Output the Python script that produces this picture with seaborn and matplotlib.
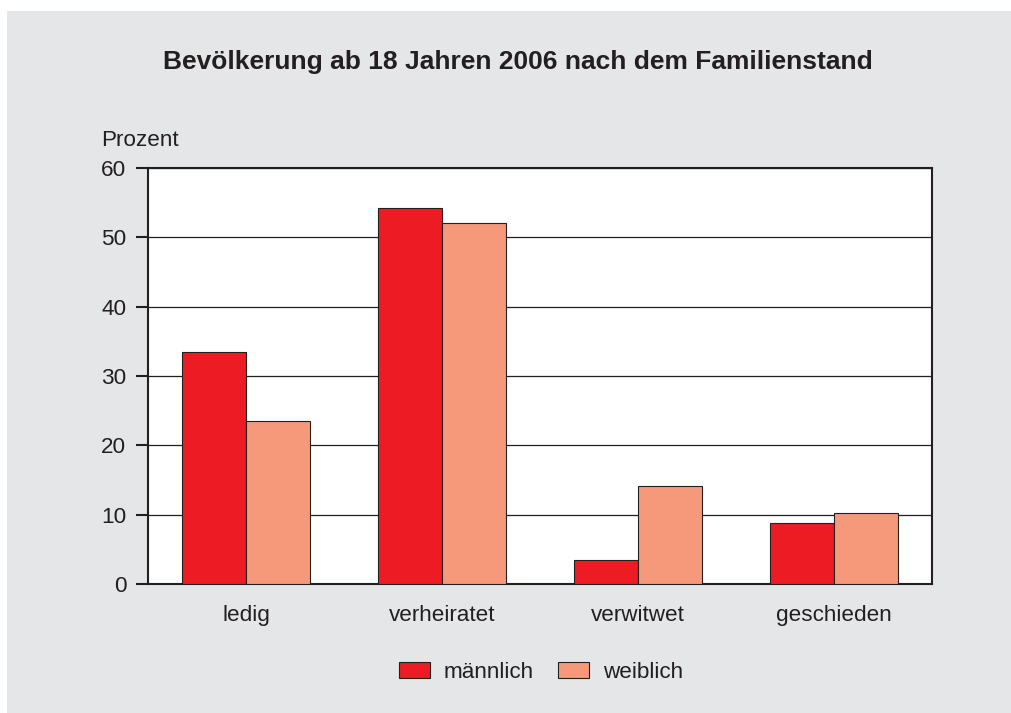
import pandas as pd
import matplotlib.pyplot as plt
import seaborn as sns
from matplotlib.patches import Rectangle

# Daten
kategorien = ['ledig', 'verheiratet', 'verwitwet', 'geschieden']
maennlich = [33.5, 54.2, 3.5, 8.8]
weiblich = [23.5, 52.1, 14.1, 10.2]
serien = ['männlich', 'weiblich']
farben = ['#ed1c24', '#f5997a']
y_ticks = [0, 10, 20, 30, 40, 50, 60]

df = pd.DataFrame({
    'Familienstand': kategorien * 2,
    'Geschlecht': [serien[0]] * 4 + [serien[1]] * 4,
    'Prozent': maennlich + weiblich,
})

sns.set_theme(style='white')
plt.rcParams['font.family'] = ['Liberation Sans', 'DejaVu Sans']

fig = plt.figure(figsize=(10.12, 7.13), dpi=100, facecolor='white')
# grauer Hintergrund
fig.patches.append(Rectangle((7 / 1012, 0), 1, 1 - 11 / 713, transform=fig.transFigure,
                             facecolor='#e5e6e8', edgecolor='none', zorder=-10))

ax = fig.add_axes([148 / 1012, 129 / 713, 784 / 1012, 416 / 713])
sns.barplot(data=df, x='Familienstand', y='Prozent', hue='Geschlecht',
            palette=farben, width=0.653, edgecolor='#231f20', linewidth=0.8,
            saturation=1, ax=ax, zorder=3)

ax.set_ylim(0, 60)
ax.set_yticks(y_ticks)
ax.yaxis.grid(True, color='#231f20', linewidth=0.9, zorder=0)
ax.set_axisbelow(True)
ax.set_facecolor('white')
for s in ax.spines.values():
    s.set_color('#231f20')
    s.set_linewidth(1.5)
ax.tick_params(axis='y', which='both', left=True, length=8.6, width=1.5,
               color='#231f20', labelsize=16.2, labelcolor='#231f20', pad=7)
ax.tick_params(axis='x', bottom=False, labelsize=16.2, labelcolor='#231f20', pad=9)
ax.set_xlabel('')
ax.set_ylabel('')

fig.text(101 / 1012, 1 - 140 / 713, 'Prozent', fontsize=16.2, color='#231f20',
         ha='left', va='center')
fig.text(518 / 1012, 1 - 62 / 713, 'Bevölkerung ab 18 Jahren 2006 nach dem Familienstand',
         fontsize=19, fontweight='bold', color='#231f20', ha='center', va='center')

ax.legend(loc='center', bbox_to_anchor=(541 / 1012, 1 - 672 / 713), bbox_transform=fig.transFigure,
          ncol=2, frameon=False, fontsize=16.2, handlelength=1.38, handleheight=0.7,
          columnspacing=1.07, handletextpad=0.62, labelcolor='#231f20')

fig.savefig('out.png', dpi=100, facecolor=fig.get_facecolor())
